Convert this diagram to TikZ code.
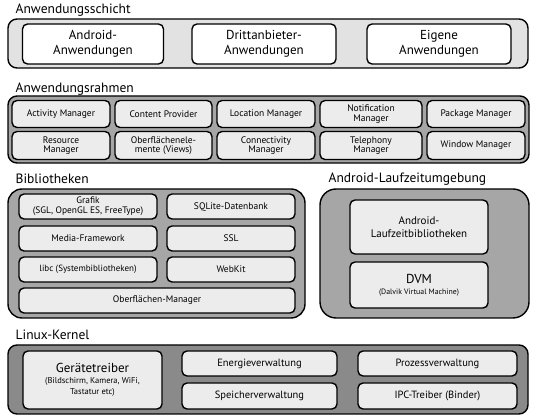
\documentclass[tikz,border=0pt]{standalone}
\usepackage{fontspec}
\setmainfont{PT Sans}
\usetikzlibrary{backgrounds}

\begin{document}
\begin{tikzpicture}[%
    x=1pt, y=-1pt,              % one unit is one pixel, y runs down
    line width=1.4pt,
    ]
% -------------------------------------------------
% Box styles for the layers
\tikzset{
layer/.style={draw, rectangle, rounded corners=9pt, inner sep=0pt},
box/.style={draw, rectangle, rounded corners=5pt, align=center, inner sep=1pt, fill=boxgray},
whitebox/.style={box, fill=white},
title/.style={anchor=west, inner sep=0pt, font=\fontsize{13.5}{15}\selectfont},
small/.style={font=\fontsize{9.5}{11}\selectfont},
}
\definecolor{boxgray}{HTML}{ECECEC}
\definecolor{topgray}{HTML}{E2E2E2}
\definecolor{midgray}{HTML}{A6A6A6}
\definecolor{darkgray}{HTML}{8A8A8A}
\useasboundingbox (0,0) rectangle (539,419);
% -------------------------------------------------
% Anwendungsschicht
\node [title] (appTitle) at (15,10) {Anwendungsschicht};
\node [layer, fill=topgray, minimum width=520pt, minimum height=49pt] (appLayer) at (268,43.5) {};
\node [whitebox, minimum width=141pt, minimum height=40pt, font=\fontsize{13}{14.5}\selectfont] (appAndroid) at (93,44) {Android-\\Anwendungen};
\node [whitebox, minimum width=144pt, minimum height=40pt, font=\fontsize{13}{14.5}\selectfont] (appThird) at (264,44) {Drittanbieter-\\Anwendungen};
\node [whitebox, minimum width=144pt, minimum height=40pt, font=\fontsize{13}{14.5}\selectfont] (appOwn) at (439,44) {Eigene\\Anwendungen};

% -------------------------------------------------
% Anwendungsrahmen
\node [title] (fwTitle) at (15,89) {Anwendungsrahmen};
\node [layer, fill=midgray, minimum width=521pt, minimum height=67pt] (fwLayer) at (268.5,129.5) {};
\node [box, small, minimum width=98pt, minimum height=27pt] (activity) at (61,114) {Activity Manager};
\node [box, small, minimum width=97pt, minimum height=27pt] (content) at (163.5,114) {Content Provider};
\node [box, small, minimum width=98pt, minimum height=27pt] (location) at (266,114) {Location Manager};
\node [box, small, minimum width=102pt, minimum height=27pt] (notification) at (371,114) {Notification\\[-1.5pt]Manager};
\node [box, small, minimum width=98pt, minimum height=27pt] (package) at (476,114) {Package Manager};
\node [box, small, minimum width=98pt, minimum height=28pt] (resource) at (61,145.5) {Resource\\[-1.5pt]Manager};
\node [box, small, minimum width=97pt, minimum height=28pt] (views) at (163.5,145.5) {Oberflächenele-\\[-1.5pt]mente (Views)};
\node [box, small, minimum width=98pt, minimum height=28pt] (connectivity) at (266,145.5) {Connectivity\\[-1.5pt]Manager};
\node [box, small, minimum width=102pt, minimum height=28pt] (telephony) at (371,145.5) {Telephony\\[-1.5pt]Manager};
\node [box, small, minimum width=98pt, minimum height=28pt] (window) at (476,145.5) {Window Manager};

% -------------------------------------------------
% Bibliotheken
\node [title] (libTitle) at (15,179) {Bibliotheken};
\node [layer, fill=midgray, rounded corners=14pt, minimum width=297pt, minimum height=129pt] (libLayer) at (156.5,253.5) {};
\node [box, minimum width=138pt, minimum height=25pt, font=\fontsize{9.4}{9.8}\selectfont] (graphics) at (88,206.5) {Grafik\\(SGL, OpenGL ES, FreeType)};
\node [box, small, minimum width=128pt, minimum height=25pt] (sqlite) at (231,206.5) {SQLite-Datenbank};
\node [box, small, minimum width=138pt, minimum height=25pt] (media) at (88,238.5) {Media-Framework};
\node [box, small, minimum width=128pt, minimum height=25pt] (ssl) at (231,238.5) {SSL};
\node [box, minimum width=138pt, minimum height=25pt, font=\fontsize{9}{11}\selectfont] (libc) at (88,269.5) {libc (Systembibliotheken)};
\node [box, small, minimum width=128pt, minimum height=25pt] (webkit) at (231,269.5) {WebKit};
\node [box, small, minimum width=276pt, minimum height=25pt] (surface) at (157,300.5) {Oberflächen-Manager};

% -------------------------------------------------
% Android-Laufzeitumgebung
\node [title] (rtTitle) at (328,179) {Android-Laufzeitumgebung};
\node [layer, fill=midgray, rounded corners=16pt, minimum width=209pt, minimum height=129pt] (rtLayer) at (424.5,253.5) {};
\node [box, minimum width=138pt, minimum height=54pt, font=\fontsize{11}{12.5}\selectfont] (rtLibs) at (419,227) {Android-\\Laufzeitbibliotheken};
\node [box, minimum width=138pt, minimum height=46pt] (dvm) at (419,285) {{\fontsize{13}{13}\selectfont DVM}\\[-1pt]{\fontsize{7.8}{9}\selectfont (Dalvik Virtual Machine)}};

% -------------------------------------------------
% Linux-Kernel
\node [title] (kernelTitle) at (15,335) {Linux-Kernel};
\node [layer, fill=darkgray, minimum width=520pt, minimum height=69pt] (kernelLayer) at (268,379.5) {};
\node [box, minimum width=139pt, minimum height=58pt] (drivers) at (92.5,380) {{\fontsize{13}{14}\selectfont Gerätetreiber}\\[-1pt]{\fontsize{8.5}{10}\selectfont (Bildschirm, Kamera, WiFi,}\\[-1.5pt]{\fontsize{8.5}{10}\selectfont Tastatur etc)}};
\node [box, minimum width=155pt, minimum height=25pt, font=\fontsize{10.5}{12}\selectfont] (power) at (259.5,363.5) {Energieverwaltung};
\node [box, minimum width=155pt, minimum height=26pt, font=\fontsize{10.5}{12}\selectfont] (memory) at (259.5,396) {Speicherverwaltung};
\node [box, minimum width=159pt, minimum height=25pt, font=\fontsize{10.5}{12}\selectfont] (process) at (437.5,363.5) {Prozessverwaltung};
\node [box, minimum width=159pt, minimum height=26pt, font=\fontsize{10.5}{12}\selectfont] (ipc) at (437.5,396) {IPC-Treiber (Binder)};

\end{tikzpicture}
\end{document}
